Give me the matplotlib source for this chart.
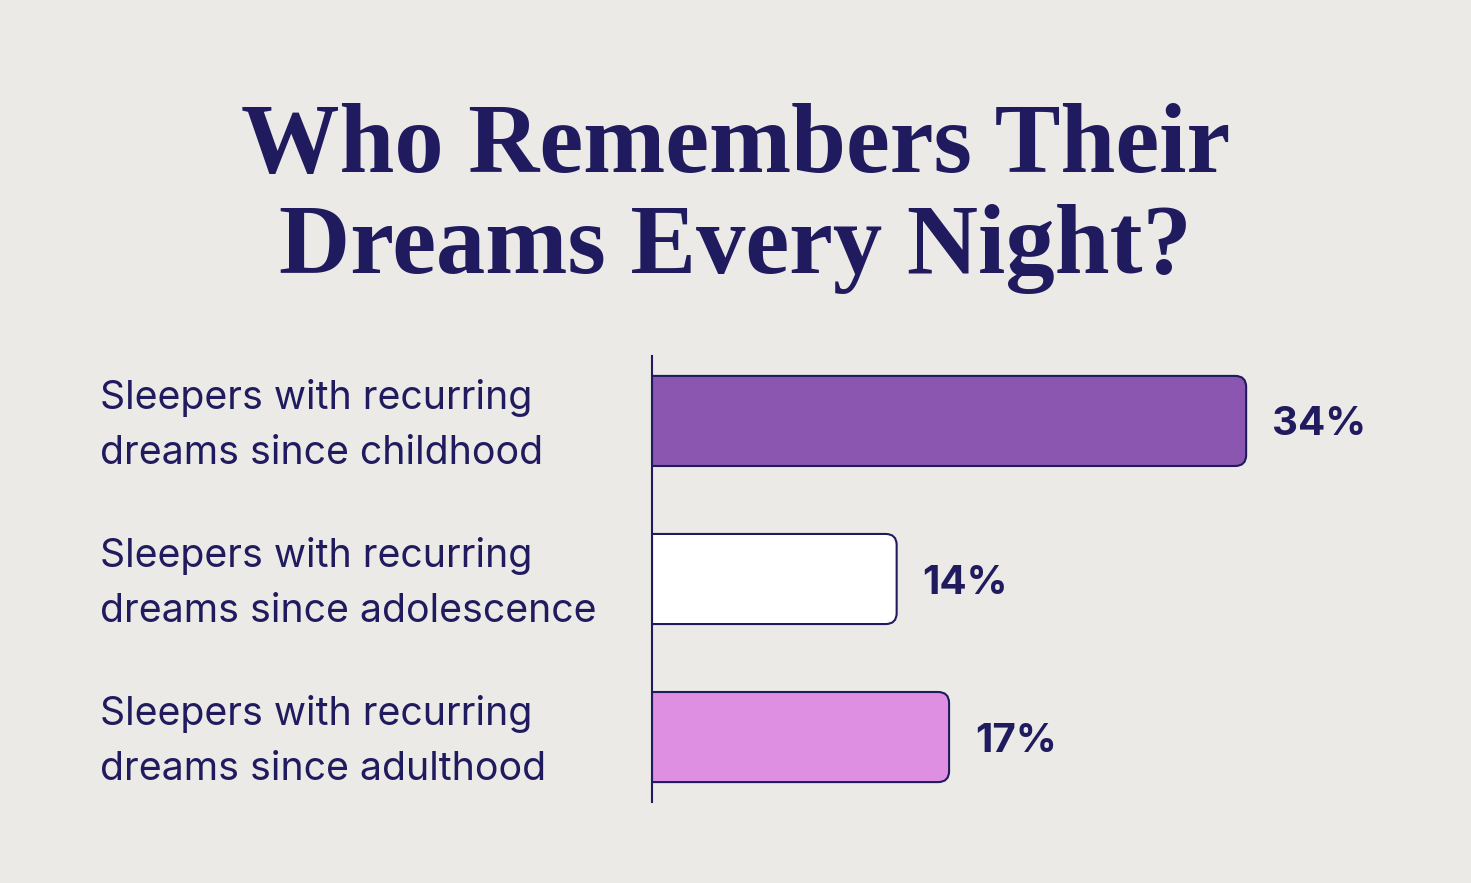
import matplotlib.pyplot as plt
from matplotlib.path import Path
from matplotlib.patches import PathPatch
from matplotlib.transforms import blended_transform_factory

# data
categories = [
    "Sleepers with recurring\ndreams since childhood",
    "Sleepers with recurring\ndreams since adolescence",
    "Sleepers with recurring\ndreams since adulthood",
]
values = [34, 14, 17]
bar_colors = ["#8B56B0", "#FFFFFF", "#DF8FE2"]
title_lines = ["Who Remembers Their", "Dreams Every Night?"]

BG = "#EBEAE6"
NAVY = "#201B5E"

W, H = 1471, 883
fig = plt.figure(figsize=(W / 100, H / 100), dpi=100, facecolor=BG)

# axes placed in pixel units
left, right, top, bottom = 652, 1351, 356, 802
ax = fig.add_axes([left / W, 1 - bottom / H, (right - left) / W, (bottom - top) / H])
ax.set_facecolor(BG)
ax.set_xlim(0, 40)
ax.set_ylim(2.411, -0.411)
for s in ["top", "right", "bottom"]:
    ax.spines[s].set_visible(False)
ax.spines["left"].set_color(NAVY)
ax.spines["left"].set_linewidth(1.5)
ax.spines["left"].set_zorder(5)
ax.set_xticks([])
ax.set_yticks([])

bar_h = 0.57
r_px = 11
px_per_x = (right - left) / 40
px_per_y = (bottom - top) / 2.822
rx = r_px / px_per_x
ry = r_px / px_per_y


def rounded_bar(y, w, color):
    """bar with rounded right corners only"""
    y0, y1 = y - bar_h / 2, y + bar_h / 2
    verts = [
        (0, y0), (w - rx, y0), (w, y0), (w, y0 + ry),
        (w, y1 - ry), (w, y1), (w - rx, y1), (0, y1), (0, y0),
    ]
    codes = [
        Path.MOVETO, Path.LINETO, Path.CURVE3, Path.CURVE3,
        Path.LINETO, Path.CURVE3, Path.CURVE3, Path.LINETO, Path.CLOSEPOLY,
    ]
    ax.add_patch(PathPatch(Path(verts, codes), facecolor=color,
                           edgecolor=NAVY, linewidth=1.5, zorder=3))


trans = blended_transform_factory(fig.transFigure, ax.transData)
for i, (cat, val, col) in enumerate(zip(categories, values, bar_colors)):
    rounded_bar(i, val, col)
    ax.text(val + 26 / px_per_x, i, f"{val}%", ha="left", va="center_baseline",
            fontsize=29, fontweight="bold", family="Inter", color=NAVY)
    ax.text(100 / W, i + 0.03, cat, transform=trans, ha="left", va="center",
            fontsize=28.3, family="Inter", color=NAVY, linespacing=1.62)

fig.text(0.5, 1 - 172 / H, title_lines[0], ha="center", va="baseline",
         fontsize=71, fontweight="bold", family="Liberation Serif", color=NAVY)
fig.text(0.5, 1 - 273 / H, title_lines[1], ha="center", va="baseline",
         fontsize=71, fontweight="bold", family="Liberation Serif", color=NAVY)

fig.savefig("out.png", dpi=100, facecolor=BG)
